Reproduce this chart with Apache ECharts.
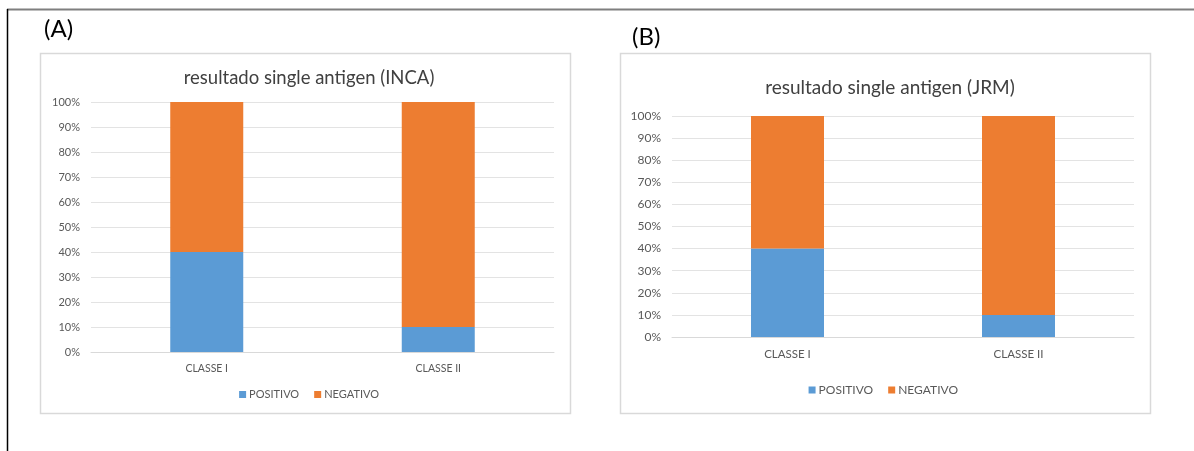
<!DOCTYPE html>
<html>
<head>
<meta charset="utf-8">
<script src="https://cdn.jsdelivr.net/npm/echarts@6/dist/echarts.min.js"></script>
<style>
  html, body { margin: 0; padding: 0; background: #ffffff; }
  #chart { width: 1194px; height: 451px; }
</style>
</head>
<body>
<div id="chart"></div>
<script>
// Categories and percentages (stacked to 100%)
const categories = ['CLASSE I', 'CLASSE II'];
const seriesNames = ['POSITIVO', 'NEGATIVO'];
const incaPositivo = [40, 10];
const incaNegativo = [60, 90];
const jrmPositivo = [40, 10];
const jrmNegativo = [60, 90];
const yTicks = [0, 10, 20, 30, 40, 50, 60, 70, 80, 90, 100];

const BLUE = '#5B9BD5';
const ORANGE = '#ED7D31';
const FONT = 'Lato, "Open Sans", sans-serif';

const chart = echarts.init(document.getElementById('chart'), null, { renderer: 'canvas' });

function xAxisFor(gridIndex, size, margin) {
  return {
    type: 'category', gridIndex, data: categories,
    axisLine: { show: true, lineStyle: { color: '#d9d9d9', width: 1 } },
    axisTick: { show: false },
    axisLabel: { color: '#595959', fontFamily: FONT, fontSize: size, margin }
  };
}
function yAxisFor(gridIndex, size) {
  return {
    type: 'value', gridIndex, min: yTicks[0], max: yTicks[yTicks.length - 1],
    interval: yTicks[1] - yTicks[0],
    axisLine: { show: false }, axisTick: { show: false },
    splitLine: { lineStyle: { color: '#e3e3e3', width: 1 } },
    axisLabel: { color: '#595959', fontFamily: FONT, fontSize: size, margin: 11, formatter: '{value}%' }
  };
}
function bar(name, data, color, idx, stack) {
  return {
    name, type: 'bar', stack, data, xAxisIndex: idx, yAxisIndex: idx,
    barWidth: 73, itemStyle: { color }, emphasis: { disabled: true }
  };
}
function legendFor(top, right, size) {
  return {
    data: seriesNames, top, right, itemWidth: 7, itemHeight: 7, itemGap: 15,
    icon: 'rect', padding: 0, selectedMode: false,
    textStyle: { fontFamily: FONT, fontSize: size, color: '#595959', padding: [0, 0, 0, -2] }
  };
}

chart.setOption({
  animation: false,
  color: [BLUE, ORANGE],
  title: [
    { text: 'resultado single antigen (INCA)', left: 304, top: 64, textAlign: 'center',
      textStyle: { fontFamily: FONT, fontSize: 18.5, fontWeight: 'normal', color: '#404040' } },
    { text: 'resultado single antigen (JRM)', left: 885, top: 73, textAlign: 'center',
      textStyle: { fontFamily: FONT, fontSize: 19, fontWeight: 'normal', color: '#404040' } }
  ],
  legend: [
    legendFor(389, 1194 - 379, 11),
    legendFor(384, 1194 - 958, 12)
  ],
  grid: [
    { left: 91, right: 1194 - 554, top: 102, bottom: 451 - 352 },
    { left: 672, right: 1194 - 1134, top: 116, bottom: 451 - 337 }
  ],
  xAxis: [xAxisFor(0, 10.5, 11), xAxisFor(1, 11.5, 11)],
  yAxis: [yAxisFor(0, 11), yAxisFor(1, 12)],
  series: [
    bar('POSITIVO', incaPositivo, BLUE, 0, 'a'),
    bar('NEGATIVO', incaNegativo, ORANGE, 0, 'a'),
    bar('POSITIVO', jrmPositivo, BLUE, 1, 'b'),
    bar('NEGATIVO', jrmNegativo, ORANGE, 1, 'b')
  ],
  graphic: [
    // page frame
    { type: 'line', shape: { x1: 7, y1: 9.5, x2: 1194, y2: 9.5 }, style: { stroke: '#7f7f7f', lineWidth: 2 }, silent: true },
    { type: 'line', shape: { x1: 7.5, y1: 9, x2: 7.5, y2: 451 }, style: { stroke: '#000000', lineWidth: 1.5 }, silent: true },
    // panel boxes
    { type: 'rect', shape: { x: 40.5, y: 53.5, width: 530, height: 360 }, style: { fill: null, stroke: '#d9d9d9', lineWidth: 1.5 }, z: -1, silent: true },
    { type: 'rect', shape: { x: 620.5, y: 53.5, width: 530, height: 360 }, style: { fill: null, stroke: '#d9d9d9', lineWidth: 1.5 }, z: -1, silent: true },
    // panel letters
    { type: 'text', left: 44, top: 17, style: { text: '(A)', font: '24px ' + FONT, fill: '#000000' }, silent: true },
    { type: 'text', left: 632, top: 25, style: { text: '(B)', font: '24px ' + FONT, fill: '#000000' }, silent: true }
  ]
});
</script>
</body>
</html>
